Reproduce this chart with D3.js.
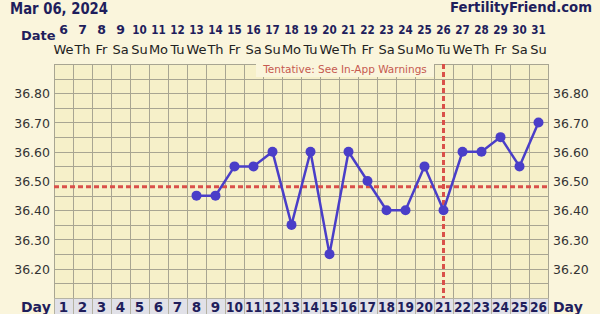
<!DOCTYPE html>
<html>
<head>
<meta charset="utf-8">
<script src="https://cdn.jsdelivr.net/npm/d3@7"></script>
<style>
  body { margin: 0; background: #faf5dc; }
  svg { display: block; font-family: "DejaVu Sans", Verdana, sans-serif; }
</style>
</head>
<body>
<div id="chart"></div>
<script>
// chart data
var cycleDays = d3.range(1, 27);
var dateNums = ["6","7","8","9","10","11","12","13","14","15","16","17","18","19","20","21","22","23","24","25","26","27","28","29","30","31"];
var weekdays = ["We","Th","Fr","Sa","Su","Mo","Tu","We","Th","Fr","Sa","Su","Mo","Tu","We","Th","Fr","Sa","Su","Mo","Tu","We","Th","Fr","Sa","Su"];
var tempDays = [8, 9, 10, 11, 12, 13, 14, 15, 16, 17, 18, 19, 20, 21, 22, 23, 24, 25, 26];
var temps = [36.45, 36.45, 36.55, 36.55, 36.60, 36.35, 36.60, 36.25, 36.60, 36.50, 36.40, 36.40, 36.55, 36.40, 36.60, 36.60, 36.65, 36.55, 36.70];
var yTicks = [36.20, 36.30, 36.40, 36.50, 36.60, 36.70, 36.80];
var coverline = 36.48;
var ovulationDay = 21;

var W = 600, H = 314;
var navy = "#1f1e5c";
// note: "top" is reserved on window, so plot edges get their own names
var pL = 54, pR = 548, pT = 64, pB = 298;

var svg = d3.select("#chart")
  .append("svg")
    .attr("width", W)
    .attr("height", H);

svg.append("rect").attr("width", W).attr("height", H).attr("fill", "#faf5dc");

var x = d3.scaleBand()
  .domain(cycleDays)
  .range([pL, pR]);

var y = d3.scaleLinear()
  .domain([36.1, 36.9])
  .range([pB, pT]);

var cx = function(d){ return x(d) + x.bandwidth()/2; };

// plot area
svg.append("rect")
  .attr("x", pL).attr("y", pT)
  .attr("width", pR-pL).attr("height", pB-pT)
  .attr("fill", "#f6f0c9");

var grid = svg.append("g").attr("stroke", "#a8a592").attr("stroke-width", 1);
grid.selectAll("line.h")
  .data(d3.range(0, 17))
  .enter().append("line")
    .attr("x1", pL).attr("x2", pR)
    .attr("y1", function(i){ return Math.round(y(36.1 + i*0.05)) + 0.5; })
    .attr("y2", function(i){ return Math.round(y(36.1 + i*0.05)) + 0.5; });
grid.selectAll("line.v")
  .data(cycleDays.concat([27]))
  .enter().append("line")
    .attr("x1", function(d){ return Math.round(d <= 26 ? x(d) : pR) + 0.5; })
    .attr("x2", function(d){ return Math.round(d <= 26 ? x(d) : pR) + 0.5; })
    .attr("y1", pT).attr("y2", pB);

// tentative note box
svg.append("rect")
  .attr("x", 256).attr("y", pT - 1)
  .attr("width", 178).attr("height", 14)
  .attr("fill", "#faf5dc");
svg.append("text")
  .text("Tentative: See In-App Warnings")
  .attr("x", 345).attr("y", 73)
  .attr("text-anchor", "middle")
  .attr("font-size", 10.5)
  .attr("fill", "#c65a50");

// coverline and ovulation line
svg.append("line")
  .attr("x1", pL).attr("x2", pR)
  .attr("y1", y(coverline)).attr("y2", y(coverline))
  .attr("stroke", "#d9504a").attr("stroke-width", 3)
  .attr("stroke-dasharray", "5,3");
svg.append("line")
  .attr("x1", cx(ovulationDay)).attr("x2", cx(ovulationDay))
  .attr("y1", pT).attr("y2", pB)
  .attr("stroke", "#d9504a").attr("stroke-width", 3)
  .attr("stroke-dasharray", "5,3");

// temperatures
var pts = tempDays.map(function(d, i){ return {day: d, t: temps[i]}; });
var line = d3.line()
  .x(function(d){ return cx(d.day); })
  .y(function(d){ return y(d.t); });
svg.append("path")
  .datum(pts)
  .attr("d", line)
  .attr("fill", "none")
  .attr("stroke", "#4a3ec8")
  .attr("stroke-width", 2.5);
svg.append("g")
  .selectAll("circle")
  .data(pts)
  .enter().append("circle")
    .attr("cx", function(d){ return cx(d.day); })
    .attr("cy", function(d){ return y(d.t); })
    .attr("r", 5)
    .attr("fill", "#4a3ec8");

// y labels both sides
var yl = svg.append("g").attr("font-size", 12.5).attr("fill", "#333");
yl.selectAll("text.l")
  .data(yTicks)
  .enter().append("text")
    .text(function(d){ return d.toFixed(2); })
    .attr("x", 50).attr("y", function(d){ return y(d) + 5; })
    .attr("text-anchor", "end");
yl.selectAll("text.r")
  .data(yTicks)
  .enter().append("text")
    .text(function(d){ return d.toFixed(2); })
    .attr("x", 553).attr("y", function(d){ return y(d) + 5; });

// header
svg.append("text")
  .text("Mar 06, 2024")
  .attr("x", 10).attr("y", 14)
  .attr("font-size", 16).attr("font-weight", "bold")
  .attr("textLength", 98).attr("lengthAdjust", "spacingAndGlyphs")
  .attr("fill", navy);
svg.append("text")
  .text("FertilityFriend.com")
  .attr("x", 592).attr("y", 12)
  .attr("text-anchor", "end")
  .attr("font-size", 14).attr("font-weight", "bold")
  .attr("textLength", 142).attr("lengthAdjust", "spacingAndGlyphs")
  .attr("fill", navy);

// date rows
svg.append("text")
  .text("Date")
  .attr("x", 21).attr("y", 40)
  .attr("font-size", 13).attr("font-weight", "bold")
  .attr("fill", navy);
svg.append("g")
  .selectAll("text")
  .data(cycleDays)
  .enter().append("text")
    .text(function(d){ return dateNums[d-1]; })
    .attr("x", cx).attr("y", 34)
    .attr("text-anchor", "middle")
    .attr("font-size", 12.5).attr("font-weight", "bold")
    .attr("fill", navy)
    .attr("textLength", function(d){ return dateNums[d-1].length > 1 ? 14.5 : null; })
    .attr("lengthAdjust", "spacingAndGlyphs");
svg.append("g")
  .selectAll("text")
  .data(cycleDays)
  .enter().append("text")
    .text(function(d){ return weekdays[d-1]; })
    .attr("x", cx).attr("y", 54)
    .attr("text-anchor", "middle")
    .attr("font-size", 13)
    .attr("fill", "#222");

// cycle day row
svg.append("g")
  .selectAll("rect")
  .data(cycleDays)
  .enter().append("rect")
    .attr("x", function(d){ return x(d) + 0.5; })
    .attr("y", pB + 0.5)
    .attr("width", x.bandwidth()).attr("height", 20)
    .attr("fill", "#e1e1e8")
    .attr("stroke", "#b5b3a4");
svg.append("g")
  .selectAll("text")
  .data(cycleDays)
  .enter().append("text")
    .text(function(d){ return d; })
    .attr("x", cx).attr("y", 312)
    .attr("text-anchor", "middle")
    .attr("font-size", 13.5).attr("font-weight", "bold")
    .attr("fill", navy)
    .attr("textLength", function(d){ return d > 9 ? 17 : null; })
    .attr("lengthAdjust", "spacingAndGlyphs");
svg.append("text").text("Day")
  .attr("x", 21).attr("y", 312)
  .attr("font-size", 14).attr("font-weight", "bold").attr("fill", navy);
svg.append("text").text("Day")
  .attr("x", 553).attr("y", 312)
  .attr("font-size", 14).attr("font-weight", "bold").attr("fill", navy);
</script>
</body>
</html>
